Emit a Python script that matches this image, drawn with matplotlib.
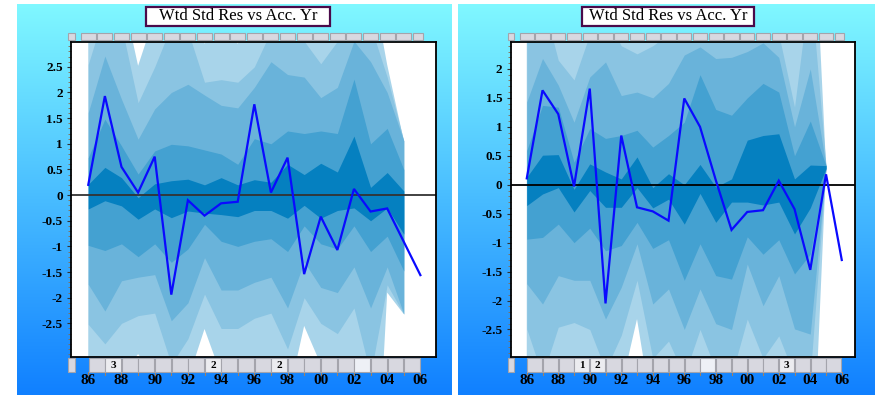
import numpy as np
import matplotlib
matplotlib.use('Agg')
import matplotlib.pyplot as plt
from matplotlib.patches import Rectangle
from matplotlib.transforms import blended_transform_factory
from matplotlib.ticker import MultipleLocator, FixedLocator, FuncFormatter

# ---------------- data ----------------
years = list(range(1986, 2007))          # residual points
band_years = list(range(1986, 2006))     # percentile bands

title = "Wtd Std Res vs Acc. Yr"
x_tick_years = list(range(1986, 2007, 2))
x_tick_labels = ['86', '88', '90', '92', '94', '96', '98', '00', '02', '04', '06']
left_yticks = [-2.5, -2, -1.5, -1, -0.5, 0, 0.5, 1, 1.5, 2, 2.5]
right_yticks = [-2.5, -2, -1.5, -1, -0.5, 0, 0.5, 1, 1.5, 2]

left_res = [0.20, 1.93, 0.55, 0.05, 0.75, -1.94, -0.10, -0.40, -0.16, -0.13, 1.77,
            0.05, 0.73, -1.54, -0.42, -1.07, 0.12, -0.32, -0.26, -0.91, -1.56]
right_res = [0.11, 1.63, 1.22, -0.03, 1.66, -2.05, 0.85, -0.39, -0.46, -0.62, 1.49,
             1.00, 0.08, -0.78, -0.47, -0.44, 0.07, -0.42, -1.47, 0.18, -1.30]

# left panel bands (level 1 = innermost)
L_up1 = [0.21, 0.54, 0.34, -0.05, 0.22, 0.28, 0.31, 0.20, 0.34, 0.20, 0.30, 0.25, 0.60, 0.40, 0.62, 0.45, 1.15, 0.15, 0.44, 0.08]
L_lo1 = [-0.27, -0.11, -0.21, -0.47, -0.27, -0.44, -0.31, -0.35, -0.38, -0.42, -0.30, -0.30, -0.45, -0.20, -0.45, -0.30, -0.25, -0.50, -0.25, -0.76]
L_up2 = [0.73, 1.48, 0.96, 0.41, 0.86, 0.99, 0.96, 0.88, 0.80, 0.60, 1.10, 1.00, 1.25, 1.20, 1.25, 1.20, 2.26, 1.00, 1.30, 0.50]
L_lo2 = [-0.98, -1.08, -0.95, -1.20, -0.95, -1.31, -1.05, -0.57, -0.90, -1.00, -0.90, -0.85, -1.10, -0.60, -0.95, -1.05, -0.60, -1.10, -0.80, -1.48]
L_up3 = [1.61, 2.71, 1.87, 1.09, 1.68, 2.00, 2.16, 1.95, 1.75, 1.70, 2.10, 2.60, 2.35, 2.30, 1.90, 2.10, 3.00, 2.60, 2.00, 1.06]
L_lo3 = [-1.74, -2.26, -1.67, -1.60, -1.55, -2.45, -2.10, -1.22, -1.85, -1.85, -1.70, -1.60, -2.20, -1.30, -1.80, -1.90, -1.40, -2.20, -1.40, -2.32]
L_up4 = [2.55, 3.60, 3.30, 1.80, 2.50, 3.30, 3.20, 2.20, 2.25, 2.20, 2.50, 3.20, 3.20, 3.00, 2.56, 3.00, 3.60, 3.30, 2.30, 1.06]
L_lo4 = [-2.52, -2.90, -2.50, -2.35, -2.30, -3.30, -2.80, -1.93, -2.60, -2.60, -2.40, -2.30, -3.00, -2.00, -2.50, -2.70, -2.20, -3.50, -1.75, -2.32]
L_up5 = [3.50, 4.00, 4.00, 2.52, 3.50, 4.00, 4.00, 2.95, 3.50, 2.95, 3.50, 4.00, 4.00, 3.50, 3.20, 4.00, 4.00, 4.30, 2.54, 1.06]
L_lo5 = [-3.50, -4.00, -3.50, -3.10, -3.50, -4.00, -3.60, -2.61, -3.50, -3.50, -3.30, -3.30, -4.00, -2.55, -3.30, -3.50, -3.30, -8.00, -1.90, -2.32]

# right panel bands
R_up1 = [0.13, 0.51, 0.52, -0.08, 0.36, 0.22, 0.10, 0.48, -0.05, 0.19, 0.00, 0.35, -0.04, 0.10, 0.77, 0.85, 0.88, 0.10, 0.34, 0.33]
R_lo1 = [-0.36, -0.16, -0.05, -0.47, -0.10, -0.39, -0.39, -0.05, -0.40, -0.25, -0.68, -0.15, -0.65, -0.30, -0.30, -0.35, -0.30, -0.85, -0.40, 0.28]
R_up2 = [0.59, 1.37, 1.34, 0.39, 0.97, 0.80, 0.85, 0.94, 0.65, 0.85, 1.08, 1.90, 1.30, 1.20, 1.50, 1.75, 1.60, 0.50, 1.10, 0.33]
R_lo2 = [-0.94, -0.91, -0.68, -1.00, -0.75, -1.14, -1.05, -0.65, -1.10, -0.95, -1.65, -1.02, -1.57, -1.63, -0.90, -1.20, -0.95, -1.54, -1.20, 0.28]
R_up3 = [1.43, 2.18, 1.72, 1.08, 1.86, 2.12, 1.54, 1.60, 1.50, 1.75, 2.24, 2.38, 2.18, 2.20, 2.30, 2.45, 2.20, 1.00, 2.00, 0.33]
R_lo3 = [-1.71, -2.06, -1.57, -1.65, -1.65, -2.32, -1.77, -1.02, -2.06, -1.80, -2.50, -1.80, -2.40, -2.50, -1.37, -2.09, -1.57, -2.49, -2.58, 0.28]
R_up4 = [2.60, 3.20, 2.15, 1.81, 2.60, 2.90, 2.40, 2.26, 2.40, 2.60, 3.00, 3.00, 3.00, 2.80, 2.90, 3.00, 2.60, 1.34, 3.50, 0.33]
R_lo4 = [-2.49, -3.30, -2.46, -2.38, -2.50, -3.20, -2.60, -1.65, -3.00, -2.70, -3.30, -2.50, -3.20, -3.30, -2.32, -3.00, -2.61, -3.30, -3.30, 0.28]
R_up5 = [3.50, 4.00, 3.50, 3.20, 3.50, 4.00, 3.50, 3.20, 3.50, 3.50, 4.00, 4.00, 4.00, 4.00, 4.00, 4.00, 4.00, 3.50, 6.00, 0.33]
R_lo5 = [-3.50, -4.00, -3.50, -3.30, -3.50, -4.00, -3.50, -2.32, -4.00, -3.50, -4.00, -3.50, -4.00, -4.00, -3.20, -4.00, -3.40, -4.00, -6.00, 0.28]

left_btn_labels = {1987: '3', 1993: '2', 1997: '2'}
right_btn_labels = {1989: '1', 1990: '2', 2002: '3'}
left_btn_selected = 2002
right_btn_selected = 1997

# ---------------- style ----------------
W, H = 875, 395
band_colors = ['#a8d4ea', '#8ac4e2', '#69b3da', '#44a1d1', '#0580c0']  # outer -> inner
line_color = '#0a0aff'
serif = ['Liberation Serif', 'DejaVu Serif']

fig = plt.figure(figsize=(W / 100, H / 100), dpi=100)
fig.patch.set_facecolor('white')


def px_rect(x0, y0, x1, y1):
    return [x0 / W, 1 - y1 / H, (x1 - x0) / W, (y1 - y0) / H]


# gradient panel backgrounds
t = np.linspace(0, 1, 256)[:, None, None]
c_top = np.array([0x80, 0xf8, 0xff]) / 255.0
c_bot = np.array([0x10, 0x80, 0xff]) / 255.0
grad = c_top[None, None, :] * (1 - t) + c_bot[None, None, :] * t
for (x0, x1) in [(17, 452), (458, 875)]:
    bg = fig.add_axes(px_rect(x0, 4, x1, 395))
    bg.imshow(grad, aspect='auto', extent=[0, 1, 0, 1], interpolation='bilinear')
    bg.axis('off')


def draw_panel(rect_px, xlim, ylim, yticks, res, bands, zero_color, title_box,
               btn_labels, btn_selected):
    ax = fig.add_axes(px_rect(*rect_px))
    ax.set_facecolor('white')
    ax.set_xlim(*xlim)
    ax.set_ylim(*ylim)
    for (lo, up), col in zip(bands, band_colors):
        ax.fill_between(band_years, lo, up, color=col, lw=0, zorder=1)
    ax.axhline(0, color=zero_color, lw=1.3, zorder=2)
    ax.plot(years, res, color=line_color, lw=1.6, zorder=3, solid_joinstyle='miter')

    for s in ax.spines.values():
        s.set_linewidth(1.3)
        s.set_color('black')
        s.set_zorder(5)

    # y axis
    ax.yaxis.set_major_locator(FixedLocator(yticks))
    ax.yaxis.set_major_formatter(FuncFormatter(lambda v, p: '%g' % v))
    ax.yaxis.set_minor_locator(MultipleLocator(0.1))
    ax.tick_params(axis='y', which='major', length=3, width=0.8, color='#333333', pad=3)
    ax.tick_params(axis='y', which='minor', length=2, width=0.6, color='#8a6a4a')
    for lab in ax.get_yticklabels():
        lab.set_fontfamily(serif)
        lab.set_fontweight('bold')
        lab.set_fontsize(9.5)

    # x axis
    ax.set_xticks(x_tick_years)
    ax.set_xticklabels(x_tick_labels)
    ax.xaxis.set_minor_locator(matplotlib.ticker.NullLocator())
    ax.tick_params(axis='x', length=0, pad=12.5)
    for lab in ax.get_xticklabels():
        lab.set_fontfamily(serif)
        lab.set_fontweight('bold')
        lab.set_fontsize(11)

    trans = blended_transform_factory(ax.transData, fig.transFigure)
    # top button row
    tb0, tb1 = 1 - 40 / H, 1 - 33.3 / H
    small = Rectangle((xlim[0] - 0.2, tb0), 0.42, tb1 - tb0, transform=trans,
                      fc='#d8d8e0', ec='#a4a4ac', lw=0.8, clip_on=False, zorder=6)
    fig.add_artist(small)
    for yr in years:
        w = 0.9 if yr < years[-1] else 0.6
        r = Rectangle((yr - 0.45, tb0), w, tb1 - tb0, transform=trans,
                      fc='#d8d8e0', ec='#a4a4ac', lw=0.8, clip_on=False, zorder=6)
        fig.add_artist(r)
    # bottom button row
    bb0, bb1 = 1 - 372 / H, 1 - 358 / H
    small = Rectangle((xlim[0] - 0.2, bb0), 0.42, bb1 - bb0, transform=trans,
                      fc='#d8d8e0', ec='#a4a4ac', lw=0.8, clip_on=False, zorder=6)
    fig.add_artist(small)
    for yr in band_years:
        fc = '#d8d8e0'
        if yr in btn_labels:
            fc = '#ececf0'
        if yr == btn_selected:
            fc = '#eef0f6'
        r = Rectangle((yr + 0.02, bb0), 0.96, bb1 - bb0, transform=trans,
                      fc=fc, ec='#a4a4ac', lw=0.8, clip_on=False, zorder=6)
        fig.add_artist(r)
        if yr in btn_labels:
            fig.text(0, 0, btn_labels[yr], transform=trans, fontfamily=serif,
                     fontweight='bold', fontsize=8, ha='center', va='center',
                     zorder=7).set_position((yr + 0.5, (bb0 + bb1) / 2))
    # x tick marks under the buttons
    for yr in years:
        ax.plot([yr, yr], [1 - 375 / H, 1 - 371.5 / H], transform=trans,
                color='#a08060', lw=0.8, clip_on=False, zorder=7)

    # title box
    x0, y0, x1, y1 = title_box
    fig.add_artist(Rectangle((x0 / W, 1 - y1 / H), (x1 - x0) / W, (y1 - y0) / H,
                             transform=fig.transFigure, fc='white', ec='#4a0a4a',
                             lw=1.6, zorder=8))
    fig.text((x0 + x1) / 2 / W, 1 - (y0 + y1) / 2 / H, title, ha='center',
             va='center', fontfamily=serif, fontsize=12, zorder=9)
    return ax


left_bands = [(L_lo5, L_up5), (L_lo4, L_up4), (L_lo3, L_up3), (L_lo2, L_up2), (L_lo1, L_up1)]
right_bands = [(R_lo5, R_up5), (R_lo4, R_up4), (R_lo3, R_up3), (R_lo2, R_up2), (R_lo1, R_up1)]

draw_panel((71, 41.7, 436, 356.7), (1984.96, 2006.94), (-3.15, 2.99), left_yticks,
           left_res, left_bands, '#333333', (146, 7, 330, 26),
           left_btn_labels, left_btn_selected)
draw_panel((510.7, 41.7, 855, 356.7), (1984.98, 2006.84), (-2.97, 2.47), right_yticks,
           right_res, right_bands, '#000000', (581.7, 7, 754, 26),
           right_btn_labels, right_btn_selected)

fig.savefig('out.png', dpi=100)
